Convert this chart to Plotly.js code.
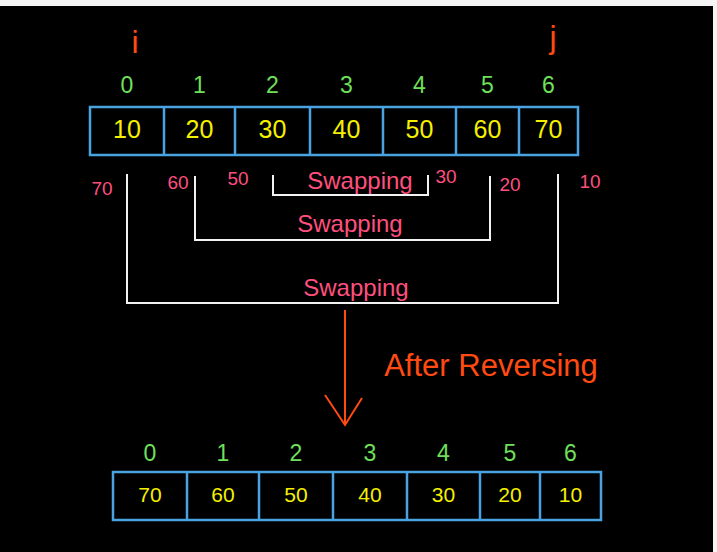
<!DOCTYPE html>
<html>
<head>
<meta charset="utf-8">
<script src="https://cdn.plot.ly/plotly-3.0.1.min.js"></script>
<style>
  html, body { margin: 0; padding: 0; background: #000; }
  #chart { width: 717px; height: 552px; }
</style>
</head>
<body>
<div id="chart"></div>
<script>
// array contents
const indices = ["0", "1", "2", "3", "4", "5", "6"];
const before = ["10", "20", "30", "40", "50", "60", "70"];
const after = ["70", "60", "50", "40", "30", "20", "10"];
// cell edges (pixel coords of the drawing)
const topEdges = [90, 164, 235, 310, 383, 456, 519, 578];
const botEdges = [113, 187, 259, 333, 407, 480, 540, 601];
// swapped values written beside the brackets
const sideVals = ["70", "60", "50", "30", "20", "10"];
const sideX = [102, 178, 238, 446, 510, 590];
const sideY = [190, 184, 180, 178, 186, 183];

const BLUE = "#4aa3e0", YEL = "#f5f000", GRN = "#6fe05a", PINK = "#ff4f7e", RED = "#ff4a12";

const mids = e => e.slice(0, -1).map((v, k) => (v + e[k + 1]) / 2);

const boxShapes = (edges, y0, y1) => {
  const s = [{ type: "rect", x0: edges[0], x1: edges[edges.length - 1], y0, y1,
    line: { color: BLUE, width: 2.5 } }];
  edges.slice(1, -1).forEach(x => s.push({ type: "line", x0: x, x1: x, y0, y1,
    line: { color: BLUE, width: 2.5 } }));
  return s;
};

const bracket = (xa, xb, yt, yb) => ({
  type: "path", path: `M ${xa} ${yt} L ${xa} ${yb} L ${xb} ${yb} L ${xb} ${yt}`,
  line: { color: "#f2f2f2", width: 2 }
});

const txt = (x, y, t, color, size) => ({
  x, y, text: t, mode: "text", type: "scatter", hoverinfo: "skip",
  textfont: { color, size, family: "Liberation Sans, Arial" }
});

const data = [
  txt(mids(topEdges), topEdges.slice(1).map(() => 87), indices, GRN, 23),
  txt(mids(topEdges), topEdges.slice(1).map(() => 132), before, YEL, 25),
  txt(mids(botEdges), botEdges.slice(1).map(() => 455), indices, GRN, 23),
  txt(mids(botEdges), botEdges.slice(1).map(() => 497), after, YEL, 21),
  txt(sideX, sideY, sideVals, PINK, 19),
  txt([360, 350, 356], [183, 226, 290], ["Swapping", "Swapping", "Swapping"], PINK, 24),
  txt([135, 553], [45, 40], ["i", "j"], RED, 32),
  txt([491], [368], ["After Reversing"], RED, 31)
];

const shapes = [
  ...boxShapes(topEdges, 107, 155),
  ...boxShapes(botEdges, 472, 520),
  bracket(273, 428, 175, 195),
  bracket(195, 490, 176, 240),
  bracket(127, 558, 174, 303),
  { type: "line", x0: 345, x1: 345, y0: 310, y1: 425, line: { color: RED, width: 2 } },
  { type: "path", path: "M 325 395 L 345 425 L 362 398", line: { color: RED, width: 2 } },
  { type: "rect", x0: 0, x1: 717, y0: 0, y1: 6, fillcolor: "#f4f4f4", line: { width: 0 } },
  { type: "rect", x0: 713, x1: 717, y0: 0, y1: 552, fillcolor: "#f4f4f4", line: { width: 0 } }
];

Plotly.newPlot("chart", data, {
  width: 717, height: 552,
  paper_bgcolor: "#000", plot_bgcolor: "#000",
  margin: { t: 0, b: 0, l: 0, r: 0 },
  showlegend: false,
  xaxis: { range: [0, 717], visible: false, fixedrange: true },
  yaxis: { range: [552, 0], visible: false, fixedrange: true },
  shapes
}, { displayModeBar: false, staticPlot: true });
</script>
</body>
</html>
